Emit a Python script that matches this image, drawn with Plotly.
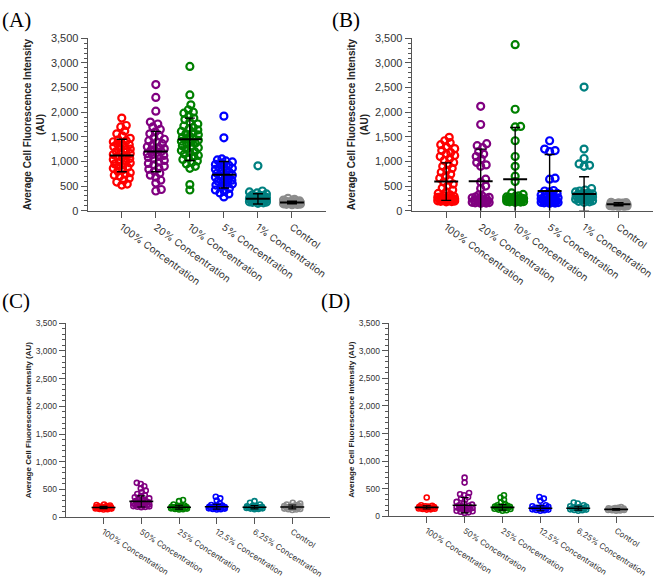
import plotly.graph_objects as go
import numpy as np

# ---------------- data ----------------
CATS_AB = ["100% Concentration", "20% Concentration", "10% Concentration",
           "5% Concentration", "1% Concentration", "Control"]
CATS_CD = ["100% Concentration", "50% Concentration", "25% Concentration",
           "12.5% Concentration", "6.25% Concentration", "Control"]
COLORS = ["#ff0000", "#800080", "#008000", "#0000ff", "#008080", "#8c8c8c"]
Y_TICKS = [0, 500, 1000, 1500, 2000, 2500, 3000, 3500]
Y_TICK_LABELS = ["0", "500", "1,000", "1,500", "2,000", "2,500", "3,000", "3,500"]
PANEL_LABELS = ["(A)", "(B)", "(C)", "(D)"]

# Panel A
A_100 = [1880, 1730, 1700, 1620, 1560, 1520, 1470, 1440, 1420, 1400, 1380, 1360, 1340, 1320,
         1300, 1280, 1250, 1230, 1200, 1180, 1160, 1140, 1120, 1100, 1080, 1060, 1040, 1010,
         990, 970, 950, 930, 900, 880, 860, 830, 800, 770, 740, 720, 700, 660, 620, 580, 540, 520]
A_20 = [2560, 2300, 2020, 1800, 1760, 1700, 1650, 1600, 1560, 1520, 1480, 1450, 1420, 1390,
        1360, 1330, 1300, 1280, 1260, 1240, 1220, 1200, 1180, 1160, 1140, 1120, 1100, 1080,
        1050, 1020, 990, 960, 930, 900, 870, 840, 800, 760, 720, 680, 620, 560, 430, 400]
A_10 = [2930, 2350, 2150, 2050, 2000, 1980, 1930, 1880, 1850, 1800, 1760, 1720, 1690, 1660,
        1640, 1610, 1590, 1560, 1540, 1510, 1490, 1470, 1450, 1430, 1410, 1390, 1370, 1350,
        1320, 1300, 1280, 1250, 1220, 1200, 1180, 1150, 1120, 1100, 1070, 1040, 1010, 980,
        950, 900, 860, 530, 420]
A_5 = [1920, 1480, 1050, 1030, 1010, 990, 960, 940, 920, 900, 880, 860, 840, 820, 800, 780,
       760, 740, 720, 700, 680, 660, 640, 620, 600, 580, 560, 540, 520, 500, 480, 450, 420,
       390, 360, 340, 280]
A_1 = [910, 400, 380, 360, 340, 320, 310, 300, 290, 280, 270, 260, 255, 250, 245, 240, 235,
       230, 225, 220, 215, 210, 205, 200, 195, 190, 185, 180, 175, 170, 160, 150]
A_CTRL = [250, 230, 215, 200, 195, 190, 185, 180, 175, 170, 168, 165, 162, 160, 158, 155,
          152, 150, 148, 145, 140, 135, 130, 125, 120]
A_MEAN = [1120, 1200, 1450, 730, 240, 165]
A_SD = [330, 410, 430, 270, 105, 25]

# Panel B
B_100 = [1490, 1420, 1380, 1340, 1300, 1260, 1220, 1180, 1150, 1120, 1100, 1060, 1020, 980,
         940, 900, 860, 820, 780, 740, 700, 660, 620, 580, 540, 500, 460, 420, 380, 350, 320,
         300, 290, 280, 270, 260, 250, 245, 240, 235, 230, 225, 220, 215, 210, 205, 200, 200,
         195, 190, 185, 180]
B_20 = [2120, 1750, 1360, 1320, 1280, 1200, 1150, 1100, 1050, 980, 930, 900, 640, 580, 500,
        450, 320, 300, 280, 270, 260, 250, 240, 230, 220, 210, 200, 190, 185, 180, 175, 170,
        165, 160, 155, 150]
B_10 = [3370, 2060, 1710, 1700, 1420, 1100, 900, 700, 590, 360, 330, 300, 290, 280, 270, 260,
        250, 245, 240, 235, 230, 225, 220, 215, 210, 205, 200, 195, 190, 185, 180, 175, 170]
B_5 = [1420, 1250, 1220, 1200, 660, 640, 410, 400, 380, 350, 320, 300, 290, 280, 270, 260,
       250, 240, 230, 220, 210, 200, 195, 190, 185, 180, 175, 170, 165, 160, 155, 150]
B_1 = [2510, 1250, 1060, 950, 920, 900, 450, 420, 400, 380, 360, 350, 340, 330, 320, 310, 300,
       290, 280, 270, 260, 250, 240, 230, 220, 210, 200, 190, 180, 170]
B_CTRL = [170, 165, 160, 155, 150, 145, 140, 135, 130, 128, 125, 122, 120, 118, 115, 112, 110,
          105, 100, 95, 90, 85, 80]
B_MEAN = [590, 600, 640, 400, 340, 130]
B_SD = [380, 650, 1050, 740, 350, 30]

# Panel C
C_100 = [230, 220, 210, 200, 195, 190, 185, 182, 180, 178, 175, 172, 170, 168, 165, 162, 160,
         158, 155, 150, 145, 140]
C_50 = [620, 600, 560, 520, 480, 450, 420, 400, 380, 360, 340, 320, 310, 300, 290, 280, 270,
        260, 250, 240, 235, 230, 225, 220, 215, 210, 205, 200, 195, 190, 185, 180]
C_25 = [310, 290, 230, 210, 200, 195, 190, 185, 180, 178, 175, 172, 170, 168, 165, 160, 155,
        150, 145, 140]
C_12 = [370, 340, 300, 250, 220, 210, 200, 195, 190, 185, 182, 180, 178, 175, 172, 170, 165,
        160, 155, 150, 145, 140]
C_6 = [290, 260, 230, 210, 200, 195, 190, 185, 180, 178, 175, 172, 170, 168, 165, 160, 155,
       150, 145]
C_CTRL = [260, 245, 230, 220, 210, 205, 200, 195, 190, 185, 180, 175, 170, 165, 160, 155, 150,
          145, 140, 130]
C_MEAN = [175, 285, 180, 190, 180, 185]
C_SD = [20, 100, 35, 45, 30, 35]

# Panel D
D_100 = [340, 200, 190, 180, 175, 170, 165, 160, 158, 155, 152, 150, 148, 145, 140, 135, 130,
         125, 120]
D_50 = [700, 610, 420, 400, 380, 350, 320, 300, 260, 230, 210, 200, 190, 180, 170, 160, 150,
        140, 130, 120, 110, 100, 90, 80, 70, 60]
D_25 = [380, 340, 300, 250, 220, 200, 190, 180, 175, 170, 165, 160, 155, 150, 145, 140, 135,
        130, 120, 110, 100]
D_12 = [350, 320, 280, 200, 180, 170, 160, 155, 150, 145, 140, 135, 130, 125, 120, 115, 110, 100]
D_6 = [250, 230, 200, 180, 170, 160, 155, 150, 145, 140, 135, 130, 125, 120, 115, 110, 100]
D_CTRL = [165, 155, 150, 145, 140, 135, 130, 128, 125, 122, 120, 118, 115, 112, 110, 105, 100]
D_MEAN = [160, 200, 160, 145, 145, 125]
D_SD = [30, 140, 50, 45, 35, 15]

# ---------------- layout geometry (pixels) ----------------
W, H = 661, 580
panels = [
    dict(groups=[A_100, A_20, A_10, A_5, A_1, A_CTRL], mean=A_MEAN, sd=A_SD, cats=CATS_AB,
         x0=88, x1=327, ytop=33, ybot=209, big=True, lab=(0, 0)),
    dict(groups=[B_100, B_20, B_10, B_5, B_1, B_CTRL], mean=B_MEAN, sd=B_SD, cats=CATS_AB,
         x0=413, x1=655, ytop=33, ybot=209, big=True, lab=(331, 0)),
    dict(groups=[C_100, C_50, C_25, C_12, C_6, C_CTRL], mean=C_MEAN, sd=C_SD, cats=CATS_CD,
         x0=66, x1=331, ytop=324, ybot=522, big=False, lab=(0, 287)),
    dict(groups=[D_100, D_50, D_25, D_12, D_6, D_CTRL], mean=D_MEAN, sd=D_SD, cats=CATS_CD,
         x0=390, x1=656, ytop=324, ybot=521, big=False, lab=(320, 287)),
]
XR = [-1, 6]
YR = [0, 3500]


def swarm(values, px_cat, px_unit, diam, maxhalf):
    order = sorted(range(len(values)), key=lambda i: values[i])
    offs = [0.0]
    k = 1
    while k * 0.5 <= maxhalf:
        offs += [k * 0.5, -k * 0.5]
        k += 1
    placed = []
    xs = [0.0] * len(values)
    for i in order:
        y = values[i] * px_unit
        best, bestd, cand = None, -1, 0.0
        for o in offs:
            md = min((np.hypot(o - p[0], y - p[1]) for p in placed), default=1e9)
            if md >= diam:
                best = o
                break
            if md > bestd:
                bestd, cand = md, o
        if best is None:
            best = cand
        placed.append((best, y))
        xs[i] = best / px_cat
    return xs


fig = go.Figure()
layout = {}
for pi, p in enumerate(panels):
    n = "" if pi == 0 else str(pi + 1)
    xa, ya = "x" + n, "y" + n
    px_cat = (p["x1"] - p["x0"]) / (XR[1] - XR[0])
    px_unit = (p["ybot"] - p["ytop"]) / (YR[1] - YR[0])
    big = p["big"]
    msize = 7 if big else 5
    mlw = 2.2 if big else 1.6
    diam = 5.5 if big else 4.0
    maxhalf = 8.5 if big else 8
    for gi, vals in enumerate(p["groups"]):
        offs = swarm(vals, px_cat, px_unit, diam, maxhalf)
        fig.add_trace(go.Scatter(
            x=[gi + o for o in offs], y=vals, mode="markers", xaxis=xa, yaxis=ya,
            marker=dict(symbol="circle-open", size=msize, color=COLORS[gi],
                        line=dict(width=mlw, color=COLORS[gi])),
            showlegend=False, hoverinfo="y"))
    # mean lines
    mx, my = [], []
    hw = 12 / px_cat
    for gi, m in enumerate(p["mean"]):
        mx += [gi - hw, gi + hw, None]
        my += [m, m, None]
    fig.add_trace(go.Scatter(x=mx, y=my, mode="lines", xaxis=xa, yaxis=ya,
                             line=dict(color="black", width=2 if big else 1.6),
                             showlegend=False, hoverinfo="skip"))
    # SD error bars
    fig.add_trace(go.Scatter(
        x=list(range(6)), y=p["mean"], mode="markers", xaxis=xa, yaxis=ya,
        marker=dict(size=1, color="rgba(0,0,0,0)"),
        error_y=dict(type="data", array=p["sd"], visible=True, color="black",
                     thickness=1.4 if big else 1.1, width=5 if big else 4),
        showlegend=False, hoverinfo="skip"))

    tfs = 10 if big else 8
    layout["xaxis" + n] = dict(
        domain=[p["x0"] / W, p["x1"] / W], anchor=ya, range=XR,
        tickmode="array", tickvals=list(range(6)), ticktext=p["cats"],
        tickangle=36 if big else 33, ticks="outside", ticklen=6, tickwidth=1,
        tickcolor="#555", showline=True, linecolor="#555", linewidth=1.2,
        showgrid=False, zeroline=False,
        tickfont=dict(family="Inter, Roboto, sans-serif", size=tfs, color="#333"))
    title_text = ("Average Cell Fluorescence Intensity<br>(AU)" if big
                  else "Average Cell Fluorescence Intensity (AU)")
    layout["yaxis" + n] = dict(
        domain=[1 - p["ybot"] / H, 1 - p["ytop"] / H], anchor=xa, range=YR,
        tickmode="array", tickvals=Y_TICKS, ticktext=Y_TICK_LABELS,
        ticks="outside", ticklen=6, tickwidth=1, tickcolor="#555",
        minor=dict(ticks="outside", ticklen=3, dtick=100, tickcolor="#555", tickwidth=1),
        showline=True, linecolor="#555", linewidth=1.2, showgrid=False, zeroline=False,
        tickfont=dict(family="Liberation Sans, Arial, sans-serif",
                      size=11 if big else 8.5, color="#333"),
        title=dict(text="<b>" + title_text + "</b>", standoff=4 if big else 2,
                   font=dict(family="Liberation Sans, Arial, sans-serif",
                             size=10 if big else 8, color="#222")))

annotations = []
for pi, p in enumerate(panels):
    lx, ly = p["lab"]
    annotations.append(dict(
        text=PANEL_LABELS[pi], x=lx / W, y=1 - ly / H, xref="paper", yref="paper",
        xanchor="left", yanchor="top", showarrow=False,
        font=dict(family="Liberation Serif, Times New Roman, serif", size=21, color="black")))

fig.update_layout(
    width=W, height=H, margin=dict(l=0, r=0, t=0, b=0),
    paper_bgcolor="white", plot_bgcolor="white",
    annotations=annotations, **layout)

fig.write_html("out.html")
